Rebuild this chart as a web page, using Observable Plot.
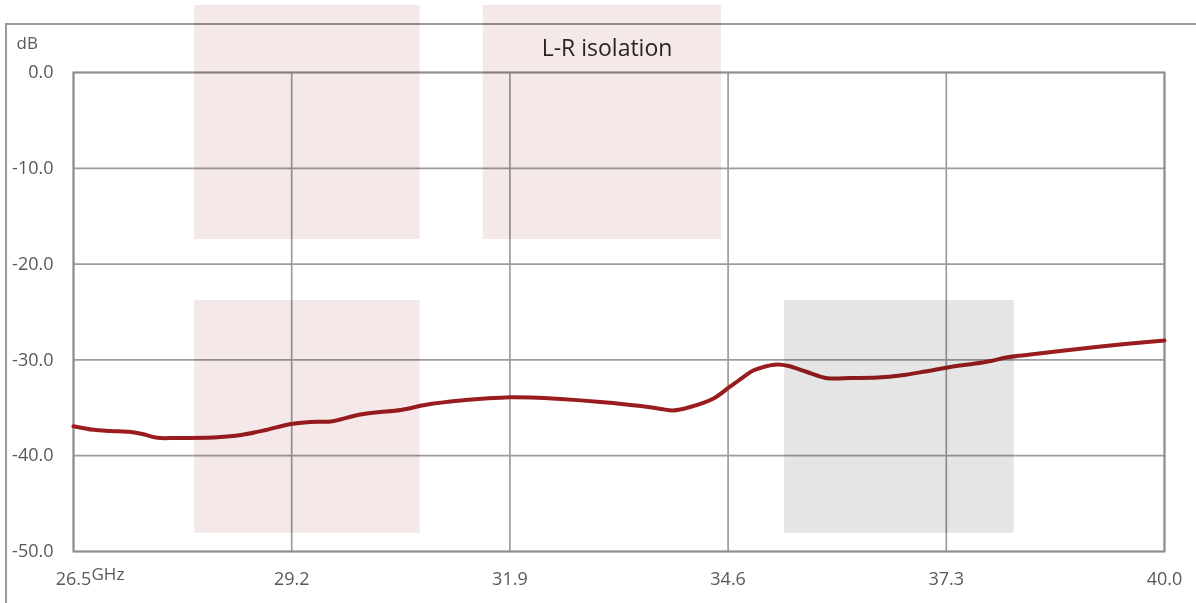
<!DOCTYPE html>
<html>
<head>
<meta charset="utf-8">
<script src="https://cdn.jsdelivr.net/npm/d3@7"></script>
<script src="https://cdn.jsdelivr.net/npm/@observablehq/plot@0.6"></script>
<style>
  html, body { margin: 0; padding: 0; background: #fff; }
  #wrap { position: relative; width: 1196px; height: 603px; overflow: hidden; }
  #outer { position: absolute; left: 5px; top: 23px; width: 1400px; height: 800px;
           border-left: 2px solid #9a9a9a; border-top: 2px solid #9a9a9a; }
  #chart { position: absolute; left: 0; top: 0; }
</style>
</head>
<body>
<div id="wrap">
  <div id="outer"></div>
  <div id="chart"></div>
</div>
<script>
// Frequency (GHz) and L-R isolation (dB)
const freq = [26.50, 26.75, 26.96, 27.21, 27.35, 27.54, 27.76, 28.28, 28.57, 28.88,
  29.19, 29.43, 29.68, 29.80, 29.99, 30.24, 30.55, 30.88, 31.29, 31.60,
  31.91, 32.16, 32.53, 33.02, 33.52, 33.77, 33.92, 34.13, 34.42, 34.61,
  34.78, 34.91, 35.06, 35.21, 35.35, 35.56, 35.83, 36.12, 36.45, 36.73,
  37.04, 37.35, 37.66, 37.85, 38.06, 38.34, 38.71, 39.21, 39.58, 40.00];
const isolation = [-36.92, -37.30, -37.42, -37.53, -37.73, -38.13, -38.15, -38.07, -37.84, -37.32,
  -36.69, -36.48, -36.43, -36.22, -35.80, -35.49, -35.23, -34.66, -34.24, -34.03,
  -33.89, -33.92, -34.08, -34.39, -34.81, -35.12, -35.28, -34.92, -34.03, -32.88,
  -31.84, -31.11, -30.69, -30.48, -30.64, -31.21, -31.91, -31.89, -31.84, -31.63,
  -31.21, -30.74, -30.38, -30.11, -29.72, -29.44, -29.07, -28.60, -28.29, -27.97];

const xTicks = [26.5, 29.2, 31.9, 34.6, 37.3, 40.0];
const yTicks = [0, -10, -20, -30, -40, -50];

// Decorative shaded boxes (in data units)
const boxX1 = [28.00, 31.57, 28.00, 35.30];
const boxX2 = [30.79, 34.52, 30.79, 38.14];
const boxY1 = [7.0, 7.0, -23.8, -23.8];
const boxY2 = [-17.43, -17.43, -48.1, -48.1];
const boxTone = ["pink", "pink", "pink", "gray"];

const boxes = boxX1.map((x1, i) => ({x1, x2: boxX2[i], y1: boxY1[i], y2: boxY2[i], tone: boxTone[i]}));
const data = freq.map((f, i) => ({f, v: isolation[i]}));

const chart = Plot.plot({
  width: 1196,
  height: 603,
  marginLeft: 73,
  marginTop: 72,
  marginRight: 32,
  marginBottom: 52,
  style: {fontFamily: "'Open Sans', sans-serif", fontSize: "18px", color: "#595959", background: "transparent"},
  x: {domain: [26.5, 40.0]},
  y: {domain: [-50, 0]},
  marks: [
    Plot.gridX(xTicks, {stroke: "#9c9c9c", strokeOpacity: 1, strokeWidth: 1.7}),
    Plot.gridY(yTicks, {stroke: "#9c9c9c", strokeOpacity: 1, strokeWidth: 1.7}),
    Plot.frame({stroke: "#8f8f8f", strokeWidth: 2}),
    Plot.line(data, {x: "f", y: "v", stroke: "#9b1c1f", strokeWidth: 4, curve: "catmull-rom"}),
    Plot.rect(boxes, {x1: "x1", x2: "x2", y1: "y1", y2: "y2",
      fill: d => d.tone === "pink" ? "#f4e8e8" : "#e5e5e5", mixBlendMode: "multiply"}),
    Plot.axisX(xTicks, {tickSize: 0, tickPadding: 21, tickFormat: d => d.toFixed(1), label: null, fill: "#595959"}),
    Plot.axisY(yTicks, {tickSize: 0, tickPadding: 20, tickFormat: d => d.toFixed(1), label: null, fill: "#595959"}),
    Plot.text(["dB"], {frameAnchor: "top-left", lineAnchor: "middle", dx: -57, dy: -29, textAnchor: "start", fill: "#595959", fontSize: 17}),
    Plot.text(["GHz"], {frameAnchor: "bottom-left", lineAnchor: "middle", dx: 18, dy: 23, textAnchor: "start", fill: "#595959", fontSize: 17}),
    Plot.text(["L-R isolation"], {frameAnchor: "top", lineAnchor: "middle", dx: -12, dy: -24, fill: "#262626", fontSize: 23})
  ]
});
document.getElementById("chart").appendChild(chart);
</script>
</body>
</html>
